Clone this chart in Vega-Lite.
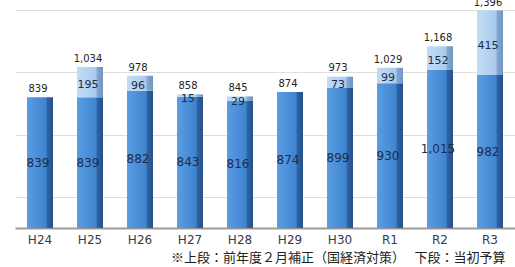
{
  "$schema": "https://vega.github.io/schema/vega-lite/v6.json",
  "width": 500,
  "height": 218,
  "autosize": "none",
  "padding": {"left": 15, "top": 10, "right": 0, "bottom": 39},
  "background": "white",
  "config": {"view": {"stroke": null}},
  "datasets": {
    "budget": [
      {"year": "H24", "part": "当初予算", "value": 839},
      {"year": "H24", "part": "補正", "value": 0},
      {"year": "H25", "part": "当初予算", "value": 839},
      {"year": "H25", "part": "補正", "value": 195},
      {"year": "H26", "part": "当初予算", "value": 882},
      {"year": "H26", "part": "補正", "value": 96},
      {"year": "H27", "part": "当初予算", "value": 843},
      {"year": "H27", "part": "補正", "value": 15},
      {"year": "H28", "part": "当初予算", "value": 816},
      {"year": "H28", "part": "補正", "value": 29},
      {"year": "H29", "part": "当初予算", "value": 874},
      {"year": "H29", "part": "補正", "value": 0},
      {"year": "H30", "part": "当初予算", "value": 899},
      {"year": "H30", "part": "補正", "value": 73},
      {"year": "R1", "part": "当初予算", "value": 930},
      {"year": "R1", "part": "補正", "value": 99},
      {"year": "R2", "part": "当初予算", "value": 1015},
      {"year": "R2", "part": "補正", "value": 152},
      {"year": "R3", "part": "当初予算", "value": 982},
      {"year": "R3", "part": "補正", "value": 415}
    ],
    "totals": [
      {"year": "H24", "total": 839},
      {"year": "H25", "total": 1034},
      {"year": "H26", "total": 978},
      {"year": "H27", "total": 858},
      {"year": "H28", "total": 845},
      {"year": "H29", "total": 874},
      {"year": "H30", "total": 973},
      {"year": "R1", "total": 1029},
      {"year": "R2", "total": 1168},
      {"year": "R3", "total": 1396}
    ]
  },
  "encoding": {
    "x": {
      "field": "year",
      "type": "nominal",
      "sort": null,
      "scale": {"paddingInner": 0.48, "paddingOuter": 0.24},
      "axis": {
        "title": "※上段：前年度２月補正（国経済対策）　 下段：当初予算",
        "titleFont": "Noto Sans CJK JP",
        "titleFontSize": 13,
        "titleFontWeight": "normal",
        "titleColor": "#222222",
        "titleAnchor": "end",
        "titleAlign": "right",
        "titleX": 490,
        "titleBaseline": "top",
        "titlePadding": 6,
        "labelAngle": 0,
        "labelFont": "DejaVu Sans",
        "labelFontSize": 12,
        "labelColor": "#3a3a4a",
        "labelPadding": 6,
        "ticks": false,
        "domain": true,
        "domainColor": "#9a9a9a",
        "domainWidth": 2,
        "grid": false
      }
    }
  },
  "layer": [
    {
      "data": {"name": "budget"},
      "transform": [
        {"stack": "value", "groupby": ["year"], "sort": [{"field": "part", "order": "ascending"}], "as": ["v0", "v1"]},
        {"filter": "datum.part === '当初予算'"}
      ],
      "mark": {
        "type": "bar",
        "width": {"band": 1},
        "color": {
          "gradient": "linear", "x1": 0, "x2": 1, "y1": 0, "y2": 0,
          "stops": [
            {"offset": 0, "color": "#5a9de3"},
            {"offset": 0.74, "color": "#3f84cf"},
            {"offset": 0.76, "color": "#2f66aa"},
            {"offset": 1, "color": "#264f86"}
          ]
        }
      },
      "encoding": {
        "y": {
          "field": "v0", "type": "quantitative",
          "scale": {"domain": [0, 1400]},
          "axis": {"title": null, "labels": false, "ticks": false, "domain": false, "grid": true, "gridColor": "#dedede", "gridWidth": 1, "values": [200, 400, 600, 800, 1000, 1200, 1400]}
        },
        "y2": {"field": "v1"}
      }
    },
    {
      "data": {"name": "budget"},
      "transform": [
        {"stack": "value", "groupby": ["year"], "sort": [{"field": "part", "order": "ascending"}], "as": ["v0", "v1"]},
        {"filter": "datum.part === '補正' && datum.value > 0"}
      ],
      "mark": {
        "type": "bar",
        "width": {"band": 1},
        "color": {
          "gradient": "linear", "x1": 0, "x2": 1, "y1": 0, "y2": 0,
          "stops": [
            {"offset": 0, "color": "#c4dcf4"},
            {"offset": 0.74, "color": "#a9cbee"},
            {"offset": 0.76, "color": "#87aad2"},
            {"offset": 1, "color": "#7094be"}
          ]
        }
      },
      "encoding": {
        "y": {"field": "v0", "type": "quantitative"},
        "y2": {"field": "v1"}
      }
    },
    {
      "data": {"name": "budget"},
      "transform": [
        {"stack": "value", "groupby": ["year"], "sort": [{"field": "part", "order": "ascending"}], "as": ["v0", "v1"]},
        {"filter": "datum.part === '当初予算'"},
        {"calculate": "(datum.v0 + datum.v1) / 2", "as": "mid"}
      ],
      "mark": {"type": "text", "font": "DejaVu Sans", "fontSize": 12, "dx": -2, "baseline": "middle", "color": "#1c2c4c"},
      "encoding": {
        "y": {"field": "mid", "type": "quantitative"},
        "text": {"field": "value", "type": "quantitative", "format": ","}
      }
    },
    {
      "data": {"name": "budget"},
      "transform": [
        {"stack": "value", "groupby": ["year"], "sort": [{"field": "part", "order": "ascending"}], "as": ["v0", "v1"]},
        {"filter": "datum.part === '補正' && datum.value > 0"},
        {"calculate": "(datum.v0 + datum.v1) / 2", "as": "mid"}
      ],
      "mark": {"type": "text", "font": "DejaVu Sans", "fontSize": 11, "dx": -2, "dy": 3, "baseline": "middle", "color": "#1c2c4c"},
      "encoding": {
        "y": {"field": "mid", "type": "quantitative"},
        "text": {"field": "value", "type": "quantitative", "format": ","}
      }
    },
    {
      "data": {"name": "totals"},
      "mark": {"type": "text", "font": "DejaVu Sans", "fontSize": 10, "baseline": "bottom", "dy": -3, "dx": -2, "color": "#222222"},
      "encoding": {
        "y": {"field": "total", "type": "quantitative"},
        "text": {"field": "total", "type": "quantitative", "format": ","}
      }
    }
  ]
}
